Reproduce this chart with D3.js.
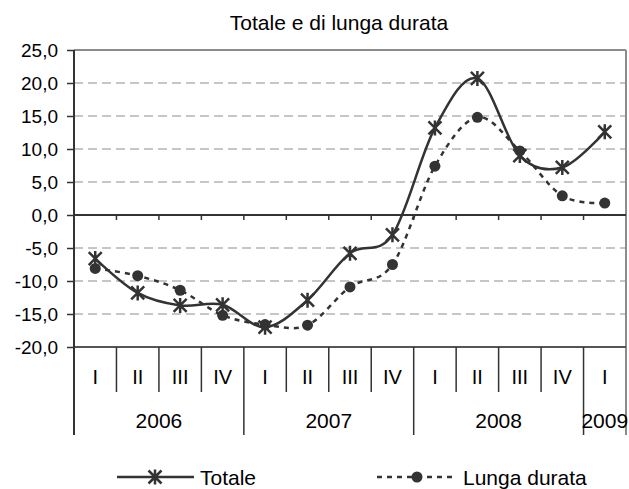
<!DOCTYPE html>
<html>
<head>
<meta charset="utf-8">
<script src="https://cdn.jsdelivr.net/npm/d3@7"></script>
<style>
  body { margin: 0; background: #fff; }
  text { font-family: "Liberation Sans", Arial, sans-serif; fill: #000; }
</style>
</head>
<body>
<div id="chart"></div>
<script>
// dati
var quarters = ["I", "II", "III", "IV", "I", "II", "III", "IV", "I", "II", "III", "IV", "I"];
var years = ["2006", "2007", "2008", "2009"];
var quartersPerYear = [4, 4, 4, 1];
var totale = [-6.6, -11.8, -13.7, -13.6, -17.0, -12.9, -5.8, -3.0, 13.2, 20.7, 9.0, 7.2, 12.6];
var lungaDurata = [-8.1, -9.2, -11.4, -15.2, -16.6, -16.7, -10.9, -7.5, 7.4, 14.8, 9.7, 2.9, 1.8];
var yTicks = [-20, -15, -10, -5, 0, 5, 10, 15, 20, 25];

var width = 629, height = 489;
var plotLeft = 74, plotRight = 626, plotTop = 50, plotBottom = 347;
var ink = "#333";

var svg = d3.select("#chart").append("svg")
    .attr("width", width)
    .attr("height", height);

var x = d3.scaleBand()
    .domain(d3.range(quarters.length))
    .range([plotLeft, plotRight]);

var y = d3.scaleLinear()
    .domain([-20, 25])
    .range([plotBottom, plotTop]);

var locale = d3.formatLocale({decimal: ",", thousands: ".", grouping: [3], currency: ["", "€"], minus: "-"});
var fmt = locale.format(".1f");

// titolo
svg.append("text")
    .attr("x", 339)
    .attr("y", 30)
    .attr("text-anchor", "middle")
    .style("font-size", "21px")
    .text("Totale e di lunga durata");

// griglia tratteggiata
svg.append("g").selectAll("line")
    .data(yTicks.filter(function(d) { return d !== 0 && d !== 25 && d !== -20; }))
    .enter().append("line")
    .attr("x1", plotLeft).attr("x2", plotRight)
    .attr("y1", function(d) { return y(d); })
    .attr("y2", function(d) { return y(d); })
    .attr("stroke", "#b4b4b4")
    .attr("stroke-width", 1.5)
    .attr("stroke-dasharray", "9,5");

// bordo area grafico
svg.append("line")
    .attr("x1", plotLeft).attr("x2", plotRight)
    .attr("y1", plotTop).attr("y2", plotTop)
    .attr("stroke", "#8c8c8c").attr("stroke-width", 2);
svg.append("line")
    .attr("x1", plotRight).attr("x2", plotRight)
    .attr("y1", plotTop).attr("y2", 435)
    .attr("stroke", "#8c8c8c").attr("stroke-width", 2);
svg.append("line")
    .attr("x1", plotLeft).attr("x2", plotRight)
    .attr("y1", plotBottom).attr("y2", plotBottom)
    .attr("stroke", "#555").attr("stroke-width", 2);

// asse y
var yAxis = svg.append("g")
    .attr("transform", "translate(" + plotLeft + ",0)")
    .call(d3.axisLeft(y).tickValues(yTicks).tickFormat(fmt).tickSize(7).tickPadding(9));
yAxis.select(".domain").remove();
yAxis.selectAll(".tick line").attr("stroke", ink).attr("stroke-width", 1.5);
yAxis.selectAll(".tick text")
    .style("font-size", "19px")
    .style("font-family", "'Liberation Sans', Arial, sans-serif")
    .attr("fill", "#000");

svg.append("line")
    .attr("x1", plotLeft).attr("x2", plotLeft)
    .attr("y1", plotTop).attr("y2", 435)
    .attr("stroke", ink).attr("stroke-width", 2);

// asse delle categorie a zero
svg.append("line")
    .attr("x1", plotLeft).attr("x2", plotRight)
    .attr("y1", y(0)).attr("y2", y(0))
    .attr("stroke", ink).attr("stroke-width", 2);
svg.append("g").selectAll("line")
    .data(d3.range(1, quarters.length))
    .enter().append("line")
    .attr("x1", function(i) { return x(i); })
    .attr("x2", function(i) { return x(i); })
    .attr("y1", y(0)).attr("y2", y(0) + 5)
    .attr("stroke", ink).attr("stroke-width", 1.5);

// etichette trimestri
var yearStart = [0];
quartersPerYear.forEach(function(n, i) { yearStart.push(yearStart[i] + n); });

svg.append("g").selectAll("line")
    .data(d3.range(1, quarters.length))
    .enter().append("line")
    .attr("x1", function(i) { return x(i); })
    .attr("x2", function(i) { return x(i); })
    .attr("y1", plotBottom)
    .attr("y2", function(i) { return yearStart.indexOf(i) >= 0 ? 435 : 392; })
    .attr("stroke", ink).attr("stroke-width", 1.5);

svg.append("g").selectAll("text")
    .data(quarters)
    .enter().append("text")
    .attr("x", function(d, i) { return x(i) + x.bandwidth() / 2; })
    .attr("y", 384)
    .attr("text-anchor", "middle")
    .style("font-size", "20px")
    .text(function(d) { return d; });

svg.append("g").selectAll("text")
    .data(years)
    .enter().append("text")
    .attr("x", function(d, i) {
        var a = x(yearStart[i]);
        var b = yearStart[i + 1] >= quarters.length ? plotRight : x(yearStart[i + 1]);
        return (a + b) / 2;
    })
    .attr("y", 428)
    .attr("text-anchor", "middle")
    .style("font-size", "21px")
    .text(function(d) { return d; });

// linee
var cx = function(d, i) { return x(i) + x.bandwidth() / 2; };
var line = d3.line()
    .x(cx)
    .y(function(d) { return y(d); })
    .curve(d3.curveCatmullRom.alpha(0));

svg.append("path")
    .datum(lungaDurata)
    .attr("d", line)
    .attr("fill", "none")
    .attr("stroke", ink)
    .attr("stroke-width", 2.5)
    .attr("stroke-dasharray", "5,5");

svg.append("path")
    .datum(totale)
    .attr("d", line)
    .attr("fill", "none")
    .attr("stroke", ink)
    .attr("stroke-width", 2.5);

function drawCircle(g, px, py) {
    g.append("circle")
        .attr("cx", px).attr("cy", py).attr("r", 5.5)
        .attr("fill", ink);
}

function drawStar(g, px, py) {
    var s = 6.5;
    g.append("path")
        .attr("d", "M" + (px - s) + "," + (py - s) + "L" + (px + s) + "," + (py + s) +
                   "M" + (px - s) + "," + (py + s) + "L" + (px + s) + "," + (py - s) +
                   "M" + px + "," + (py - s - 1) + "L" + px + "," + (py + s + 1))
        .attr("stroke", ink)
        .attr("stroke-width", 2.5)
        .attr("fill", "none");
}

var markers = svg.append("g");
lungaDurata.forEach(function(d, i) { drawCircle(markers, cx(d, i), y(d)); });
totale.forEach(function(d, i) { drawStar(markers, cx(d, i), y(d)); });

// legenda
var legend = svg.append("g");
legend.append("line")
    .attr("x1", 117).attr("x2", 194).attr("y1", 477).attr("y2", 477)
    .attr("stroke", ink).attr("stroke-width", 2.5);
drawStar(legend, 155, 477);
legend.append("text")
    .attr("x", 200).attr("y", 485)
    .style("font-size", "21px")
    .text("Totale");

legend.append("line")
    .attr("x1", 377).attr("x2", 457).attr("y1", 477).attr("y2", 477)
    .attr("stroke", ink).attr("stroke-width", 2.5)
    .attr("stroke-dasharray", "5,5");
drawCircle(legend, 417, 477);
legend.append("text")
    .attr("x", 463).attr("y", 485)
    .style("font-size", "21px")
    .text("Lunga durata");
</script>
</body>
</html>
